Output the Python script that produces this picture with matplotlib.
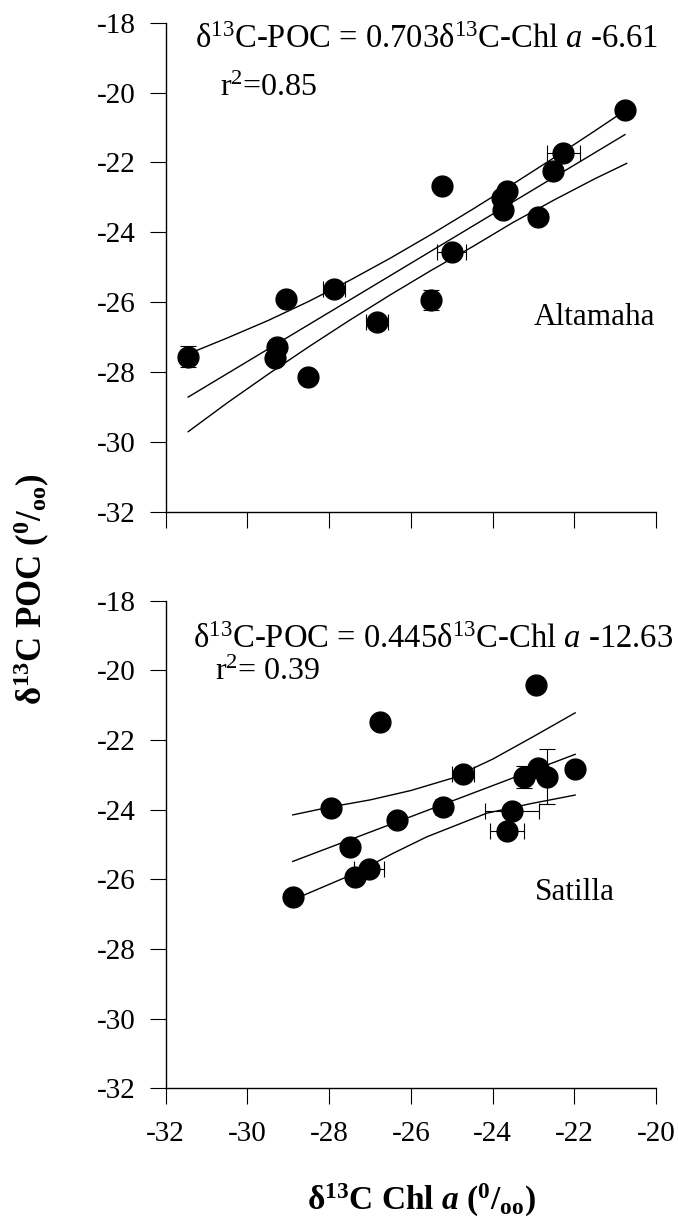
import numpy as np
import matplotlib.pyplot as plt

plt.rcParams['font.family'] = ['Liberation Serif', 'DejaVu Serif']
plt.rcParams['mathtext.fontset'] = 'custom'
plt.rcParams['mathtext.rm'] = 'Liberation Serif'
plt.rcParams['mathtext.it'] = 'Liberation Serif:italic'
plt.rcParams['mathtext.bf'] = 'Liberation Serif:bold'
plt.rcParams['mathtext.bfit'] = 'Liberation Serif:italic:bold'
plt.rcParams['axes.unicode_minus'] = False

# Altamaha (top panel)
alt_x = [-20.76, -22.27, -22.53, -25.25, -23.65, -23.78, -23.74, -22.90, -25.00,
         -27.88, -29.06, -25.51, -26.84, -31.45, -29.28, -29.32, -28.52]
alt_y = [-20.50, -21.74, -22.24, -22.69, -22.81, -23.03, -23.36, -23.57, -24.57,
         -25.63, -25.91, -25.94, -26.56, -27.56, -27.29, -27.61, -28.15]
alt_xerr = [0, 0.41, 0, 0, 0, 0, 0, 0, 0.35, 0.28, 0, 0, 0.27, 0, 0, 0, 0]
alt_yerr = [0, 0, 0, 0, 0, 0, 0, 0, 0, 0, 0, 0.30, 0, 0.31, 0, 0, 0]
alt_slope, alt_icpt = 0.703, -6.61
alt_up_x = [-31.40, -30.5, -29.5, -28.5, -27.5, -26.5, -25.5, -24.5, -23.5, -22.5, -21.5, -20.76]
alt_up_y = [-27.46, -27.03, -26.53, -25.98, -25.38, -24.74, -24.06, -23.35, -22.62, -21.87, -21.10, -20.52]
alt_lo_x = [-31.45, -30.5, -29.5, -28.5, -27.5, -26.5, -25.5, -24.5, -23.5, -22.5, -21.5, -20.72]
alt_lo_y = [-29.71, -28.89, -28.07, -27.28, -26.52, -25.79, -25.09, -24.42, -23.72, -23.08, -22.47, -22.03]

# Satilla (bottom panel)
sat_x = [-22.94, -26.76, -24.72, -23.23, -22.88, -22.68, -21.98, -27.95,
         -25.21, -26.35, -23.53, -23.65, -27.49, -27.02, -27.37, -28.89]
sat_y = [-20.42, -21.47, -22.98, -23.07, -22.81, -23.05, -22.84, -23.96,
         -23.91, -24.30, -24.03, -24.60, -25.06, -25.71, -25.94, -26.52]
sat_xerr = [0, 0, 0.27, 0, 0, 0, 0, 0, 0.20, 0, 0.66, 0.42, 0, 0.36, 0, 0]
sat_yerr = [0, 0, 0, 0.32, 0, 0.80, 0, 0, 0, 0, 0, 0, 0, 0, 0, 0]
sat_slope, sat_icpt = 0.445, -12.63
sat_up_x = [-28.89, -28.0, -27.0, -26.0, -25.0, -24.0, -23.0, -21.98]
sat_up_y = [-24.15, -23.93, -23.72, -23.45, -23.10, -22.55, -21.90, -21.22]
sat_lo_x = [-28.89, -27.37, -26.43, -25.61, -24.14, -23.08, -21.98]
sat_lo_y = [-26.59, -25.83, -25.25, -24.78, -24.10, -23.83, -23.58]

fig = plt.figure(figsize=(6.78, 12.18), dpi=100)
ax1 = fig.add_axes([0.2444, 0.5799, 0.7232, 0.4015])
ax2 = fig.add_axes([0.2444, 0.1065, 0.7232, 0.4003])


def draw_panel(ax, x, y, xerr, yerr, slope, icpt, ux, uy, lx, ly):
    x = np.array(x)
    y = np.array(y)
    xerr = np.array(xerr)
    yerr = np.array(yerr)
    xs = np.array([x.min(), x.max()])
    ax.plot(xs, slope * xs + icpt, color='black', lw=1.0, zorder=2)
    ax.plot(ux, uy, color='black', lw=1.0, zorder=2)
    ax.plot(lx, ly, color='black', lw=1.0, zorder=2)
    m = xerr > 0
    ax.errorbar(x[m], y[m], xerr=xerr[m], fmt='none', ecolor='black',
                elinewidth=0.8, capsize=6, capthick=0.8, zorder=3)
    m = yerr > 0
    ax.errorbar(x[m], y[m], yerr=yerr[m], fmt='none', ecolor='black',
                elinewidth=0.8, capsize=6, capthick=0.8, zorder=3)
    ax.plot(x, y, 'o', color='black', ms=15, zorder=4)
    ax.set_xlim(-32, -20)
    ax.set_ylim(-32, -18)
    ax.set_xticks(np.arange(-32, -19, 2))
    ax.set_yticks(np.arange(-32, -17, 2))
    for s in ['top', 'right']:
        ax.spines[s].set_visible(False)
    for s in ['left', 'bottom']:
        ax.spines[s].set_linewidth(1.0)
    ax.tick_params(direction='out', length=11.5, width=0.8, labelsize=21)
    ax.tick_params(axis='y', pad=10)
    ax.tick_params(axis='x', pad=12)


draw_panel(ax1, alt_x, alt_y, alt_xerr, alt_yerr, alt_slope, alt_icpt,
           alt_up_x, alt_up_y, alt_lo_x, alt_lo_y)
draw_panel(ax2, sat_x, sat_y, sat_xerr, sat_yerr, sat_slope, sat_icpt,
           sat_up_x, sat_up_y, sat_lo_x, sat_lo_y)
ax1.tick_params(labelbottom=False)

ax1.text(-31.28, -18.50, 'δ$^{13}$C-POC = 0.703δ$^{13}$C-Chl $\\mathit{a}$ -6.61',
         fontsize=23.5, va='center', ha='left')
ax1.text(-30.67, -19.87, 'r$^{2}$=0.85', fontsize=23, va='center', ha='left')
ax1.text(-23.0, -26.45, 'Altamaha', fontsize=22.5, va='center', ha='left')

ax2.text(-31.33, -19.13, 'δ$^{13}$C-POC = 0.445δ$^{13}$C-Chl $\\mathit{a}$ -12.63',
         fontsize=23.5, va='center', ha='left')
ax2.text(-30.79, -20.05, 'r$^{2}$= 0.39', fontsize=23, va='center', ha='left')
ax2.text(-22.96, -26.39, 'Satilla', fontsize=22.5, va='center', ha='left')

fig.text(0.047, 0.516, 'δ$^{\\mathbf{13}}$C POC ($^{\\mathbf{0}}$/$_{\\mathbf{oo}}$)',
         rotation=90, fontsize=25, fontweight='bold', ha='center', va='center')
fig.text(0.622, 0.0148, 'δ$^{\\mathbf{13}}$C Chl $\\mathbfit{a}$ ($^{\\mathbf{0}}$/$_{\\mathbf{oo}}$)',
         fontsize=24, fontweight='bold', ha='center', va='center')

fig.savefig('out.png', dpi=100)
